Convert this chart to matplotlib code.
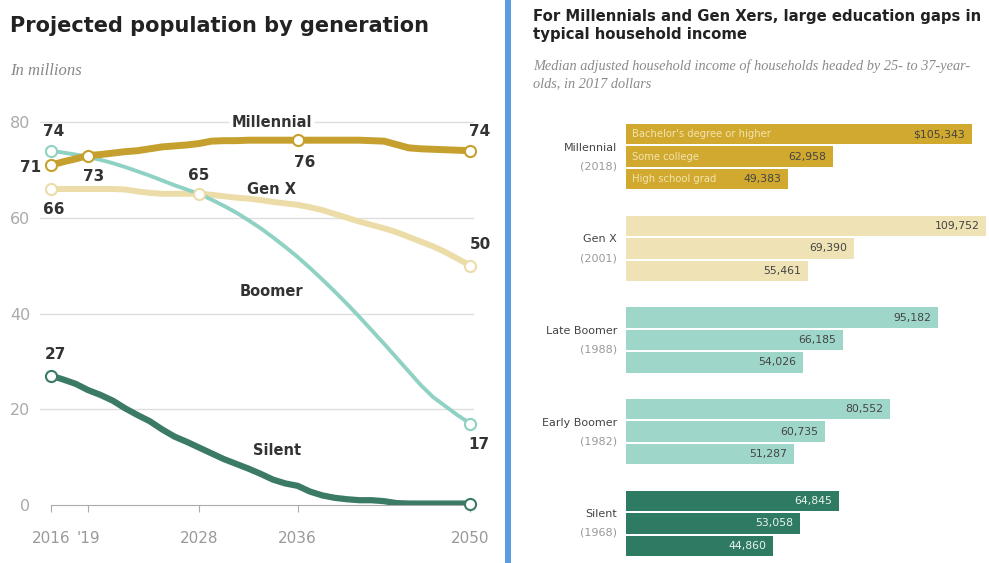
import numpy as np
import matplotlib
matplotlib.use("Agg")
import matplotlib.pyplot as plt
from matplotlib.lines import Line2D

W, H = 989, 563

# ---- left chart data (millions) ----
years = list(range(2016, 2051))
millennial = [71.0, 71.7, 72.3, 73.0, 73.2, 73.5, 73.8, 74.0, 74.4, 74.8, 75.0, 75.2, 75.5,
              76.0, 76.1, 76.1, 76.2, 76.2, 76.2, 76.2, 76.2, 76.2, 76.2, 76.2, 76.2, 76.2,
              76.1, 76.0, 75.3, 74.6, 74.4, 74.3, 74.2, 74.1, 74.0]
genx = [66.0, 66.0, 66.0, 66.0, 66.0, 66.0, 65.9, 65.5, 65.2, 65.0, 65.0, 65.0, 65.0,
        64.8, 64.5, 64.2, 64.0, 63.7, 63.3, 63.0, 62.7, 62.2, 61.6, 60.8, 60.0, 59.2,
        58.5, 57.8, 57.0, 56.0, 55.0, 54.0, 52.8, 51.4, 50.0]
boomer = [74.0, 73.6, 73.2, 72.7, 72.1, 71.4, 70.6, 69.7, 68.8, 67.8, 66.8, 65.9, 65.0,
          63.8, 62.5, 61.1, 59.5, 57.8, 55.9, 53.9, 51.8, 49.5, 47.1, 44.6, 42.0, 39.3,
          36.5, 33.7, 30.8, 27.9, 25.0, 22.5, 20.6, 18.7, 17.0]
silent = [27.0, 26.2, 25.3, 24.0, 23.0, 21.8, 20.2, 18.8, 17.5, 15.8, 14.3, 13.2, 12.0,
          10.8, 9.6, 8.6, 7.6, 6.5, 5.3, 4.5, 4.0, 2.8, 2.0, 1.5, 1.2, 1.0, 1.0, 0.8,
          0.4, 0.3, 0.3, 0.3, 0.3, 0.3, 0.3]
xtick_years = [2016, 2019, 2028, 2036, 2050]
xtick_labels = ["2016", "'19", "2028", "2036", "2050"]

# ---- right chart data (2017 dollars) ----
groups = ["Millennial", "Gen X", "Late Boomer", "Early Boomer", "Silent"]
group_years = ["(2018)", "(2001)", "(1988)", "(1982)", "(1968)"]
education = ["Bachelor's degree or higher", "Some college", "High school grad"]
income = [
    [105343, 62958, 49383],
    [109752, 69390, 55461],
    [95182, 66185, 54026],
    [80552, 60735, 51287],
    [64845, 53058, 44860],
]

c_mil = "#c6a02e"
c_genx = "#ebdca8"
c_boom = "#8fd2c4"
c_sil = "#3b7b65"
bar_colors = ["#d0a92e", "#efe2b4", "#9fd6ca", "#9fd6ca", "#2f7a62"]

fig = plt.figure(figsize=(W / 100, H / 100), dpi=100)

def fx(px):
    return px / W

def fy(py):
    return 1 - py / H

# ================= left panel =================
ppy = 383 / 80.0  # pixels per million
ax = fig.add_axes([fx(40), fy(505), fx(474 - 40), (505 - 112) / H])
ax.set_xlim(2015.1, 2050.3)
ax.set_ylim(0, (505 - 112) / ppy)

for v in [20, 40, 60, 80]:
    ax.axhline(v, color="#dedede", lw=1.0, zorder=0)

ax.plot(years, genx, color=c_genx, lw=4.3, solid_capstyle="round", zorder=2)
ax.plot(years, boomer, color=c_boom, lw=2.8, solid_capstyle="round", zorder=3)
ax.plot(years, millennial, color=c_mil, lw=5, solid_capstyle="round", zorder=4)
ax.plot(years, silent, color=c_sil, lw=4.5, solid_capstyle="round", zorder=4)

mk = dict(marker="o", ms=8, mfc="white", mew=1.5, ls="none", zorder=6, clip_on=False)
ax.plot([2016, 2019, 2036, 2050], [millennial[0], millennial[3], millennial[20], millennial[-1]], mec=c_mil, **mk)
ax.plot([2016, 2028, 2050], [genx[0], genx[12], genx[-1]], mec=c_genx, **mk)
ax.plot([2016, 2050], [boomer[0], boomer[-1]], mec=c_boom, **mk)
ax.plot([2016, 2050], [silent[0], silent[-1]], mec=c_sil, **mk)

lab = dict(textcoords="offset points", fontsize=11, fontweight="bold", color="#333333",
           va="center", ha="center", zorder=7)
ax.annotate("74", (2016, boomer[0]), xytext=(2, 14), **lab)
ax.annotate("71", (2016, millennial[0]), xytext=(-15, -1.5), **lab)
ax.annotate("73", (2019, millennial[3]), xytext=(4, -15), **lab)
ax.annotate("66", (2016, genx[0]), xytext=(2, -14.5), **lab)
ax.annotate("65", (2028, genx[12]), xytext=(0, 13.5), **lab)
ax.annotate("76", (2036, millennial[20]), xytext=(5, -16), **lab)
ax.annotate("74", (2050, millennial[-1]), xytext=(7, 13.5), **lab)
ax.annotate("50", (2050, genx[-1]), xytext=(7, 15), **lab)
ax.annotate("17", (2050, boomer[-1]), xytext=(6.5, -15), **lab)
ax.annotate("27", (2016, silent[0]), xytext=(3, 15), **lab)

name = dict(fontsize=10.5, fontweight="bold", color="#333333", ha="center", va="center", zorder=7)
ax.text(2033.9, 79.8, "Millennial", bbox=dict(facecolor="white", edgecolor="none", pad=2), **name)
ax.text(2033.9, 66.0, "Gen X", **name)
ax.text(2033.9, 44.5, "Boomer", **name)
ax.text(2034.3, 11.3, "Silent", **name)

for s in ["top", "right", "left"]:
    ax.spines[s].set_visible(False)
ax.spines["bottom"].set_bounds(2016, 2050)
ax.spines["bottom"].set_color("#aaaaaa")
ax.set_xticks(xtick_years)
ax.set_xticklabels(xtick_labels)
ax.set_yticks([0, 20, 40, 60, 80])
ax.tick_params(axis="x", colors="#aaaaaa", labelcolor="#999999", length=5, labelsize=11, pad=14)
ax.tick_params(axis="y", length=0, labelcolor="#aaaaaa", labelsize=11.5, pad=7)

fig.text(fx(10), fy(32), "Projected population by generation", fontsize=15,
         fontweight="bold", color="#222222", va="baseline")
fig.text(fx(10), fy(75), "In millions", fontsize=12, style="italic",
         family="Liberation Serif", color="#888888", va="baseline")

# divider
fig.add_artist(Line2D([fx(508), fx(508)], [0, 1], color="#5b9bdf", lw=4.3))

# ================= right panel =================
G = 4.075
axr = fig.add_axes([fx(626), fy(557), fx(987 - 626), (557 - 123) / H])
axr.set_xlim(0, 110000)
axr.set_ylim(4 * G + 2 + 0.5, -0.5)
axr.axis("off")

for g, vals in enumerate(income):
    ys = [g * G + i for i in range(3)]
    axr.barh(ys, vals, height=0.91, color=bar_colors[g])
    for i, (y, v) in enumerate(zip(ys, vals)):
        txt = f"${v:,}" if (g == 0 and i == 0) else f"{v:,}"
        tcol = "#e9f3ef" if g == 4 else "#444444"
        axr.annotate(txt, (v, y), xytext=(-5, 0), textcoords="offset points",
                     ha="right", va="center", fontsize=7.8, color=tcol)
        if g == 0:
            axr.annotate(education[i], (0, y), xytext=(4.5, 0), textcoords="offset points",
                         ha="left", va="center", fontsize=7.2, color="#f3e4b0")
    yc = g * G + 1
    axr.annotate(groups[g], (0, yc), xytext=(-6.5, 6.5), textcoords="offset points",
                 ha="right", va="center", fontsize=8, color="#444444", annotation_clip=False)
    axr.annotate(group_years[g], (0, yc), xytext=(-6.5, -7), textcoords="offset points",
                 ha="right", va="center", fontsize=8, color="#999999", annotation_clip=False)

fig.text(fx(533), fy(9), "For Millennials and Gen Xers, large education gaps in\ntypical household income",
         fontsize=10.7, fontweight="bold", color="#222222", va="top", linespacing=1.25)
fig.text(fx(533), fy(59), "Median adjusted household income of households headed by 25- to 37-year-\nolds, in 2017 dollars",
         fontsize=10.3, style="italic", family="Liberation Serif", color="#8a8a8a",
         va="top", linespacing=1.45)

fig.savefig("out.png", dpi=100)
